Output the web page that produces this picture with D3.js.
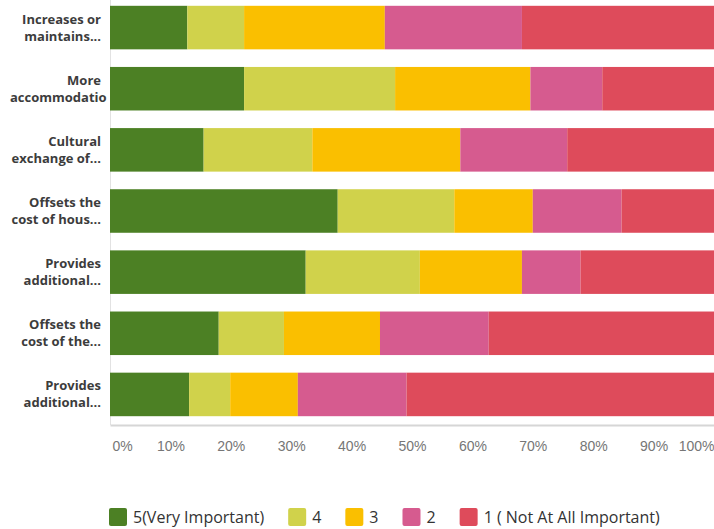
<!DOCTYPE html>
<html>
<head>
<meta charset="utf-8">
<script src="https://cdn.jsdelivr.net/npm/d3@7"></script>
<style>
  body { margin: 0; background: #fff; }
  svg { display: block; font-family: "Open Sans", sans-serif; }
  .cat-label { font-size: 13px; font-weight: 700; fill: #3c3c3c; }
  .x-axis text { font-size: 14px; fill: #767676; }
  .legend text { font-size: 16px; fill: #333; }
</style>
</head>
<body>
<svg width="714" height="529"></svg>
<script>
// answer rows, each split into the two lines shown beside the bar
const categories = [
  ['Increases or', 'maintains...'],
  ['More', 'accommodatio'],
  ['Cultural', 'exchange of...'],
  ['Offsets the', 'cost of hous...'],
  ['Provides', 'additional...'],
  ['Offsets the', 'cost of the...'],
  ['Provides', 'additional...']
];
const seriesNames = ['5(Very Important)', '4', '3', '2', '1 ( Not At All Important)'];
// percent of responses per row
const veryImportant = [12.8, 22.2, 15.5, 37.7, 32.4, 18.0, 13.1];
const four          = [9.4, 25.0, 18.0, 19.3, 18.9, 10.8, 6.8];
const three         = [23.3, 22.4, 24.5, 13.0, 16.9, 15.9, 11.2];
const two           = [22.7, 11.9, 17.7, 14.7, 9.7, 18.0, 18.0];
const notAtAll      = [31.8, 18.5, 24.3, 15.3, 22.1, 37.3, 50.9];
const tickValues = [0, 10, 20, 30, 40, 50, 60, 70, 80, 90, 100];
const colors = ['#4c8024', '#d0d24b', '#fabf00', '#d65b8f', '#de4b5b'];

const svg = d3.select('svg');
const margin = { left: 110, right: 0, top: -3, bottom: 104 };
const width = +svg.attr('width');
const height = +svg.attr('height');
const innerWidth = width - margin.left - margin.right;
const innerHeight = height - margin.top - margin.bottom;

const table = categories.map((c, i) => ({
  key: i,
  s0: veryImportant[i], s1: four[i], s2: three[i], s3: two[i], s4: notAtAll[i]
}));
const keys = ['s0', 's1', 's2', 's3', 's4'];
const stacked = d3.stack().keys(keys)(table);

const xScale = d3.scaleLinear().domain([0, 100]).range([0, innerWidth]);
const yScale = d3.scaleBand()
  .domain(d3.range(categories.length))
  .range([0, innerHeight])
  .paddingInner(0.288)
  .paddingOuter(0.144);

const g = svg.append('g')
  .attr('transform', `translate(${margin.left},${margin.top})`);

// category labels: right aligned in a box, long words spill to the right
const labelBoxLeft = 10 - margin.left;
const labelBoxRight = -9;
const labels = g.append('g');
categories.forEach((lines, i) => {
  const cy = yScale(i) + yScale.bandwidth() / 2;
  lines.forEach((line, j) => {
    const t = labels.append('text')
      .attr('class', 'cat-label')
      .attr('y', cy + (j === 0 ? -8.5 : 8.5))
      .attr('dy', '0.35em')
      .text(line);
    const w = t.node().getComputedTextLength();
    if (w > labelBoxRight - labelBoxLeft) {
      t.attr('x', labelBoxLeft).attr('text-anchor', 'start');
    } else {
      t.attr('x', labelBoxRight).attr('text-anchor', 'end');
    }
  });
});

// left axis line
g.append('line')
  .attr('x1', 0.5).attr('x2', 0.5)
  .attr('y1', yScale(0) - 8).attr('y2', innerHeight)
  .attr('stroke', '#e2e2e2');

const layers = g.selectAll('g.layer')
  .data(stacked)
  .enter().append('g')
  .attr('class', 'layer')
  .attr('fill', (d, i) => colors[i]);

layers.selectAll('rect')
  .data(d => d)
  .enter().append('rect')
  .attr('x', d => xScale(d[0]))
  .attr('y', d => yScale(d.data.key))
  .attr('width', d => xScale(d[1]) - xScale(d[0]))
  .attr('height', yScale.bandwidth());

const xAxis = d3.axisBottom(xScale)
  .tickValues(tickValues)
  .tickFormat(d => d + '%')
  .tickSize(0)
  .tickSizeOuter(0)
  .tickPadding(16);

const xAxisG = g.append('g')
  .attr('class', 'x-axis')
  .attr('transform', `translate(0,${innerHeight})`)
  .call(xAxis);
xAxisG.select('.domain').attr('stroke', '#d6d6d6').attr('stroke-width', 2);
xAxisG.selectAll('.tick text')
  .attr('text-anchor', (d, i, n) => i === 0 ? 'start' : i === n.length - 1 ? 'end' : 'middle')
  .attr('dx', (d, i) => i === 0 ? 2 : 0);

// legend
const legend = svg.append('g')
  .attr('class', 'legend')
  .attr('transform', 'translate(109,508)');
let lx = 0;
seriesNames.forEach((name, i) => {
  const item = legend.append('g').attr('transform', `translate(${lx},0)`);
  item.append('rect')
    .attr('width', 18).attr('height', 18)
    .attr('rx', 2)
    .attr('fill', colors[i]);
  const t = item.append('text')
    .attr('x', 24)
    .attr('y', 9)
    .attr('dy', '0.35em')
    .text(name);
  lx += 24 + t.node().getComputedTextLength() + 24;
});
</script>
</body>
</html>
